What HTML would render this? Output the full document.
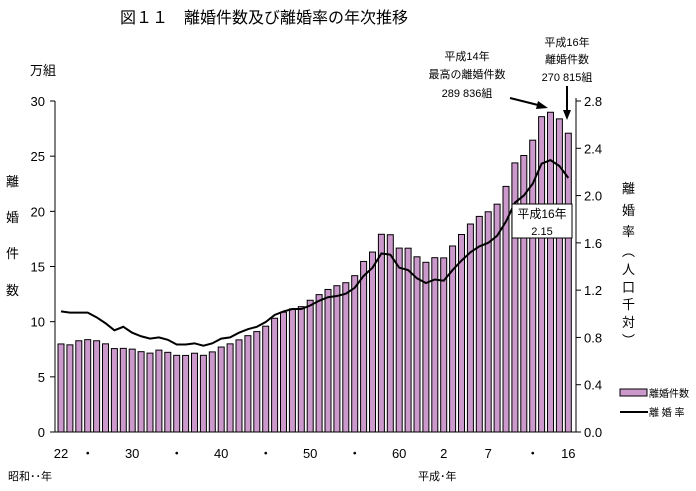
<!DOCTYPE html>
<html><head><meta charset="utf-8"><style>
body{margin:0;background:#fff;}
svg text{font-family:"Liberation Sans","Noto Sans CJK JP",sans-serif;fill:#000;}
</style></head><body>
<svg id="chart" width="696" height="486" viewBox="0 0 696 486" xmlns="http://www.w3.org/2000/svg">
<text x="120" y="23" font-size="16">図１１　離婚件数及び離婚率の年次推移</text>
<text x="30" y="75" font-size="13">万組</text>
<g font-size="13">
<text x="6" y="186">離</text><text x="6" y="222">婚</text><text x="6" y="258">件</text><text x="6" y="295">数</text></g>
<g font-size="13">
<text x="622" y="193">離</text><text x="622" y="215">婚</text><text x="622" y="236">率</text><text x="622" y="256">︵</text><text x="622" y="274">人</text><text x="622" y="292">口</text><text x="622" y="309">千</text><text x="622" y="327">対</text><text x="622" y="345">︶</text></g>
<g id="bars"></g><g id="axes"></g><path id="line" fill="none" stroke="#000" stroke-width="2"/>
<g>
<rect x="512" y="204" width="60" height="34" fill="#fff" stroke="#000"/>
<text x="542" y="218" font-size="12" text-anchor="middle">平成16年</text>
<text x="542" y="235" font-size="11" text-anchor="middle">2.15</text></g>
<g font-size="11" text-anchor="middle">
<text x="467" y="60">平成14年</text><text x="467" y="78">最高の離婚件数</text><text x="467" y="97">289 836組</text>
<line x1="510" y1="98" x2="542" y2="106" stroke="#000" stroke-width="2"/>
<polygon points="548,108 538,101 536,109" fill="#000"/></g>
<g font-size="11" text-anchor="middle">
<text x="567" y="46">平成16年</text><text x="567" y="63">離婚件数</text><text x="567" y="81">270 815組</text>
<line x1="567" y1="86" x2="567" y2="112" stroke="#000" stroke-width="2"/>
<polygon points="567,120 563,110 571,110" fill="#000"/></g>
<g font-size="10">
<rect x="620" y="389" width="27" height="7" fill="#cc99cc" stroke="#000"/>
<text x="649" y="397">離婚件数</text>
<line x1="620" y1="412" x2="648" y2="412" stroke="#000" stroke-width="2"/>
<text x="649" y="416">離 婚 率</text></g>
<text x="8" y="480" font-size="11">昭和･･年</text>
<text x="418" y="480" font-size="11">平成･年</text>
</svg>
<script>
const years=[1947,1948,1949,1950,1951,1952,1953,1954,1955,1956,1957,1958,1959,1960,1961,1962,1963,1964,1965,1966,1967,1968,1969,1970,1971,1972,1973,1974,1975,1976,1977,1978,1979,1980,1981,1982,1983,1984,1985,1986,1987,1988,1989,1990,1991,1992,1993,1994,1995,1996,1997,1998,1999,2000,2001,2002,2003,2004];
const divorces=[7.98,7.90,8.27,8.37,8.27,7.99,7.56,7.58,7.51,7.28,7.15,7.42,7.22,6.95,6.94,7.14,6.95,7.26,7.70,7.99,8.35,8.73,9.10,9.59,10.31,10.86,11.16,11.36,11.94,12.45,12.92,13.26,13.53,14.17,15.46,16.31,17.92,17.88,16.67,16.66,15.88,15.38,15.80,15.78,16.86,17.90,18.85,19.54,19.96,20.65,22.26,24.39,25.06,26.45,28.58,28.98,28.38,27.08];
const rates=[1.02,1.01,1.01,1.01,0.97,0.92,0.86,0.89,0.84,0.81,0.79,0.80,0.78,0.74,0.74,0.75,0.73,0.75,0.79,0.80,0.84,0.87,0.89,0.93,0.99,1.02,1.04,1.04,1.07,1.11,1.14,1.15,1.17,1.22,1.32,1.39,1.51,1.50,1.39,1.37,1.30,1.26,1.29,1.28,1.37,1.45,1.52,1.57,1.60,1.66,1.78,1.94,2.00,2.10,2.27,2.30,2.25,2.15];
const leftTicks=[0,5,10,15,20,25,30];
const rightTicks=[0.0,0.4,0.8,1.2,1.6,2.0,2.4,2.8];
const xLabels=["22","・","30","・","40","・","50","・","60","2","7","・","16"];
const xLabelYears=[1947,1950,1955,1960,1965,1970,1975,1980,1985,1990,1995,2000,2004];
const NS="http://www.w3.org/2000/svg";
const y0=432,yTop=101;
const yL=v=>y0-v*(y0-yTop)/30;
const yR=v=>y0-v*(y0-yTop)/2.8;
const xC=yr=>61+(yr-1947)*8.9;
function mk(t,a,p){const e=document.createElementNS(NS,t);for(const k in a)e.setAttribute(k,a[k]);p.appendChild(e);return e;}
const bars=document.getElementById('bars'),axes=document.getElementById('axes');
years.forEach((yr,i)=>{
 const r=mk('rect',{x:xC(yr)-3,y:yL(divorces[i]),width:6,height:y0-yL(divorces[i]),fill:'#cc99cc',stroke:'#000','stroke-width':1},bars);
 
 
});
document.getElementById('line').setAttribute('d',years.map((yr,i)=>(i?'L':'M')+xC(yr)+','+yR(rates[i])).join(''));
mk('line',{x1:55,y1:y0,x2:55,y2:yTop,stroke:'#000'},axes);
mk('line',{x1:576,y1:y0,x2:576,y2:yTop-3,stroke:'#000'},axes);
mk('line',{x1:55,y1:y0,x2:576,y2:y0,stroke:'#000'},axes);
leftTicks.forEach(v=>{
 mk('line',{x1:50,y1:yL(v),x2:55,y2:yL(v),stroke:'#000'},axes);
 const t=mk('text',{x:45,y:yL(v)+5,'font-size':13,'text-anchor':'end'},axes);t.textContent=v;
 
 
});
rightTicks.forEach(v=>{
 mk('line',{x1:576,y1:yR(v),x2:581,y2:yR(v),stroke:'#000'},axes);
 const t=mk('text',{x:584,y:yR(v)+5,'font-size':13},axes);t.textContent=v.toFixed(1);
 
 
});
xLabels.forEach((l,i)=>{
 const t=mk('text',{x:xC(xLabelYears[i]),y:458,'font-size':13,'text-anchor':'middle'},axes);t.textContent=l;
 
 
});
</script>
</body></html>
